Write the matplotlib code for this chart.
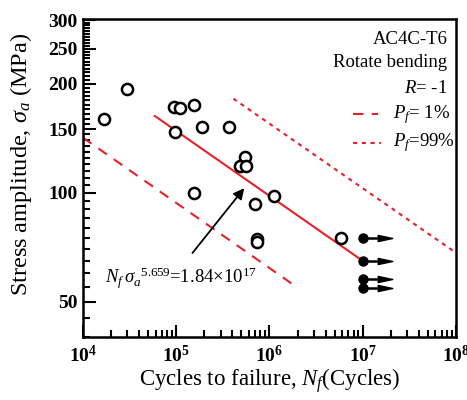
import numpy as np
import matplotlib
matplotlib.use("Agg")
import matplotlib.pyplot as plt
from matplotlib.path import Path
from matplotlib.ticker import FixedLocator, FuncFormatter

plt.rcParams['font.family'] = ['Liberation Serif', 'DejaVu Serif']
plt.rcParams['mathtext.fontset'] = 'custom'
plt.rcParams['mathtext.rm'] = 'Liberation Serif'
plt.rcParams['mathtext.it'] = 'Liberation Serif:italic'
plt.rcParams['mathtext.bf'] = 'Liberation Serif:bold'

# Failed specimens (open circles)
cycles_fail = [1.68e4, 2.93e4, 9.4e4, 1.11e5, 1.55e5, 9.6e4, 1.89e5, 3.67e5,
               5.5e5, 4.78e5, 5.6e5, 1.55e5, 7.03e5, 1.13e6, 7.3e5, 7.4e5, 5.85e6]
stress_fail = [160, 193, 172.7, 171.6, 174.6, 147.2, 151.7, 151.7,
               126, 118.8, 118.8, 100, 93.2, 98.3, 74.6, 73.4, 74.9]

# Run-outs (filled circles with arrows)
cycles_runout = [1e7, 1e7, 1e7, 1e7]
stress_runout = [74.9, 64.9, 57.8, 54.5]

# Fitted lines (end points)
mean_N = [5.9e4, 1e7]
mean_S = [163.0, 64.9]
p1_N = [1e4, 1.85e6]
p1_S = [142.0, 55.5]
p99_N = [4.1e5, 9.6e7]
p99_S = [182.0, 68.8]

fig = plt.figure(figsize=(4.67, 4.0), dpi=100)
ax = fig.add_axes([0.1777, 0.1575, 0.7987, 0.795])

red = '#e8202a'
ax.plot(mean_N, mean_S, color=red, lw=1.5, zorder=2)
ax.plot(p1_N, p1_S, color=red, lw=1.5, ls=(0, (5, 4)), zorder=2)
ax.plot(p99_N, p99_S, color=red, lw=1.5, ls=(0, (2, 2.2)), zorder=2)

ax.plot(cycles_fail, stress_fail, 'o', ms=8, mfc='white', mec='black', mew=1.8,
        zorder=3)
ax.plot(cycles_runout, stress_runout, 'o', ms=6.5, color='black', zorder=4)

tri = Path([(-1, -0.42), (1, 0), (-1, 0.42), (-1, -0.42)],
           [Path.MOVETO, Path.LINETO, Path.LINETO, Path.CLOSEPOLY])
for n, s in zip(cycles_runout, stress_runout):
    ax.plot([n, n * 1.38], [s, s], color='black', lw=1.8, zorder=4)
    ax.plot([n * 1.72], [s], marker=tri, ms=10.5, color='black', zorder=4)

ax.set_xscale('log')
ax.set_yscale('log')
ax.set_xlim(1e4, 1e8)
ax.set_ylim(40, 302)

ax.yaxis.set_major_locator(FixedLocator([50, 100, 150, 200, 250, 300]))
ax.yaxis.set_minor_locator(FixedLocator(np.arange(40, 301, 5)))
ax.yaxis.set_major_formatter(FuncFormatter(lambda v, p: f'{int(v)}'))
ax.yaxis.set_minor_formatter(FuncFormatter(lambda v, p: ''))
ax.xaxis.set_major_locator(FixedLocator([1e4, 1e5, 1e6, 1e7, 1e8]))
ax.xaxis.set_major_formatter(FuncFormatter(
    lambda v, p: r'$\mathbf{10^{%d}}$' % int(round(np.log10(v)))))

ax.tick_params(which='both', direction='in', top=False, right=False,
               width=1.5, labelsize=14)
ax.tick_params(which='major', length=9)
ax.tick_params(which='minor', length=5)
ax.tick_params(axis='y', pad=4)
ax.tick_params(axis='x', pad=6)
for lab in ax.get_yticklabels():
    lab.set_fontweight('bold')
for sp in ax.spines.values():
    sp.set_linewidth(1.8)

ax.set_xlabel(r'Cycles to failure, $N_f$(Cycles)', fontsize=16.5, labelpad=0)
ax.set_ylabel(r'Stress amplitude, $\sigma_a$ (MPa)', fontsize=17.5)
ax.yaxis.set_label_coords(-0.13, 0.542)

# Legend block
tx = 0.977
fs = 13.5
ax.text(tx, 0.935, 'AC4C-T6', transform=ax.transAxes, ha='right', va='center',
        fontsize=fs)
ax.text(tx, 0.862, 'Rotate bending', transform=ax.transAxes, ha='right',
        va='center', fontsize=fs)
ax.text(tx, 0.783, r'$R$= -1', transform=ax.transAxes, ha='right',
        va='center', fontsize=fs)
ax.plot([0.725, 0.79], [0.70, 0.70], transform=ax.transAxes, color=red, lw=1.5,
        ls=(0, (5, 4)))
ax.text(0.83, 0.70, r'$P_f$= 1%', transform=ax.transAxes, ha='left',
        va='center', fontsize=fs)
ax.plot([0.725, 0.80], [0.61, 0.61], transform=ax.transAxes, color=red, lw=1.5,
        ls=(0, (2, 2.2)))
ax.text(0.83, 0.61, r'$P_f$=99%', transform=ax.transAxes, ha='left',
        va='center', fontsize=fs)

ax.annotate('', xy=(5.6e5, 104.5), xytext=(1.43e5, 67.3),
            arrowprops=dict(arrowstyle='-|>', color='black', lw=1.3,
                            mutation_scale=16))
ax.text(1.72e4, 56.3, r'$N_f\,\sigma_a^{\ \ 5.659}$=1.84$\times$10$^{17}$',
        fontsize=13.5, ha='left', va='baseline')

fig.savefig('out.png', dpi=100)
